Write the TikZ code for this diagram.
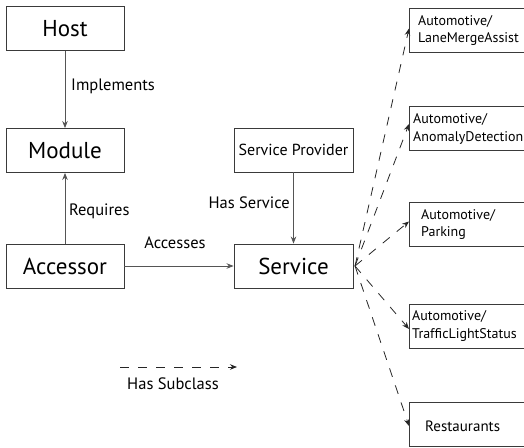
\documentclass[tikz,border=0pt]{standalone}
\usepackage{fontspec}
\setmainfont{PT Sans}
\usetikzlibrary{arrows.meta}
\definecolor{boxline}{HTML}{3A3A3A}
\definecolor{arrline}{HTML}{555555}
\begin{document}
\begin{tikzpicture}[x=1pt,y=-1pt,
  bigbox/.style={draw=boxline,line width=0.9pt,minimum width=118pt,minimum height=44pt,inner sep=0pt,font=\fontsize{23}{26}\selectfont},
  midbox/.style={draw=boxline,line width=0.9pt,minimum width=119pt,minimum height=44pt,inner sep=0pt,font=\fontsize{16}{19}\selectfont},
  subbox/.style={draw=boxline,line width=0.9pt,minimum width=125pt,minimum height=44pt,inner sep=0pt,anchor=west},
  subtext/.style={anchor=west,align=left,inner sep=0pt,font=\fontsize{14}{17.5}\selectfont},
  lbl/.style={inner sep=0pt,font=\fontsize{16.5}{19}\selectfont},
  solidarr/.style={draw=arrline,line width=0.8pt,-{Stealth[length=7pt,width=5.5pt]}},
  dasharr/.style={draw=black!85,line width=0.8pt,dash pattern=on 9pt off 9pt,-{Stealth[length=7pt,width=5.5pt]}}
]
\useasboundingbox (0,0) rectangle (524,447);
\clip (0,0) rectangle (524,447);
% main boxes
\node[bigbox] (host) at (65,28.5) {Host};
\node[bigbox] (module) at (65,150.5) {Module};
\node[bigbox] (accessor) at (65,266) {Accessor};
\node[bigbox,minimum width=119pt] (service) at (293.5,266) {Service};
\node[midbox] (provider) at (293.5,150) {Service Provider};
% subclass boxes
\node[subbox] (lane) at (409,30.5) {};
\node[subbox] (anomaly) at (409,128) {};
\node[subbox] (parking) at (409,224.5) {};
\node[subbox] (traffic) at (409,326) {};
\node[subbox] (rest) at (409,424) {};
\node[subtext] (lanet) at ([xshift=9pt]lane.west) {Automotive/\\LaneMergeAssist};
\node[subtext] (anomalyt) at ([xshift=4pt,yshift=-1pt]anomaly.west) {Automotive/\\AnomalyDetection};
\node[subtext] (parkingt) at ([xshift=12pt]parking.west) {Automotive/\\Parking};
\node[subtext] (traffict) at ([xshift=3pt]traffic.west) {Automotive/\\TrafficLightStatus};
\node[subtext,font=\fontsize{15}{18}\selectfont] (restt) at ([xshift=16pt,yshift=-2pt]rest.west) {Restaurants};
% solid connectors
\draw[solidarr] (host) -- (module);
\draw[solidarr] (accessor) -- (module);
\draw[solidarr] (accessor) -- (service);
\draw[solidarr] (provider) -- (service);
% labels
\node[lbl,anchor=west] (impl) at (71,86) {Implements};
\node[lbl,anchor=west] (req) at (69,211) {Requires};
\node[lbl] (acc) at (175,243) {Accesses};
\node[lbl,anchor=east] (hass) at (290,203) {Has Service};
% dashed subclass connectors
\coordinate (src) at (355,266);
\draw[dasharr] (src) -- ([yshift=2pt]lane.west);
\draw[dasharr] (src) -- ([yshift=4pt]anomaly.west);
\draw[dasharr] (src) -- ([yshift=3pt]parking.west);
\draw[dasharr] (src) -- ([yshift=-3pt]traffic.west);
\draw[dasharr] (src) -- ([yshift=-2pt]rest.west);
% legend
\coordinate (lega) at (120,367);
\coordinate (legb) at (237,367);
\draw[dasharr] (lega) -- (legb);
\node[lbl] (legt) at (173,384) {Has Subclass};
\end{tikzpicture}
\end{document}
